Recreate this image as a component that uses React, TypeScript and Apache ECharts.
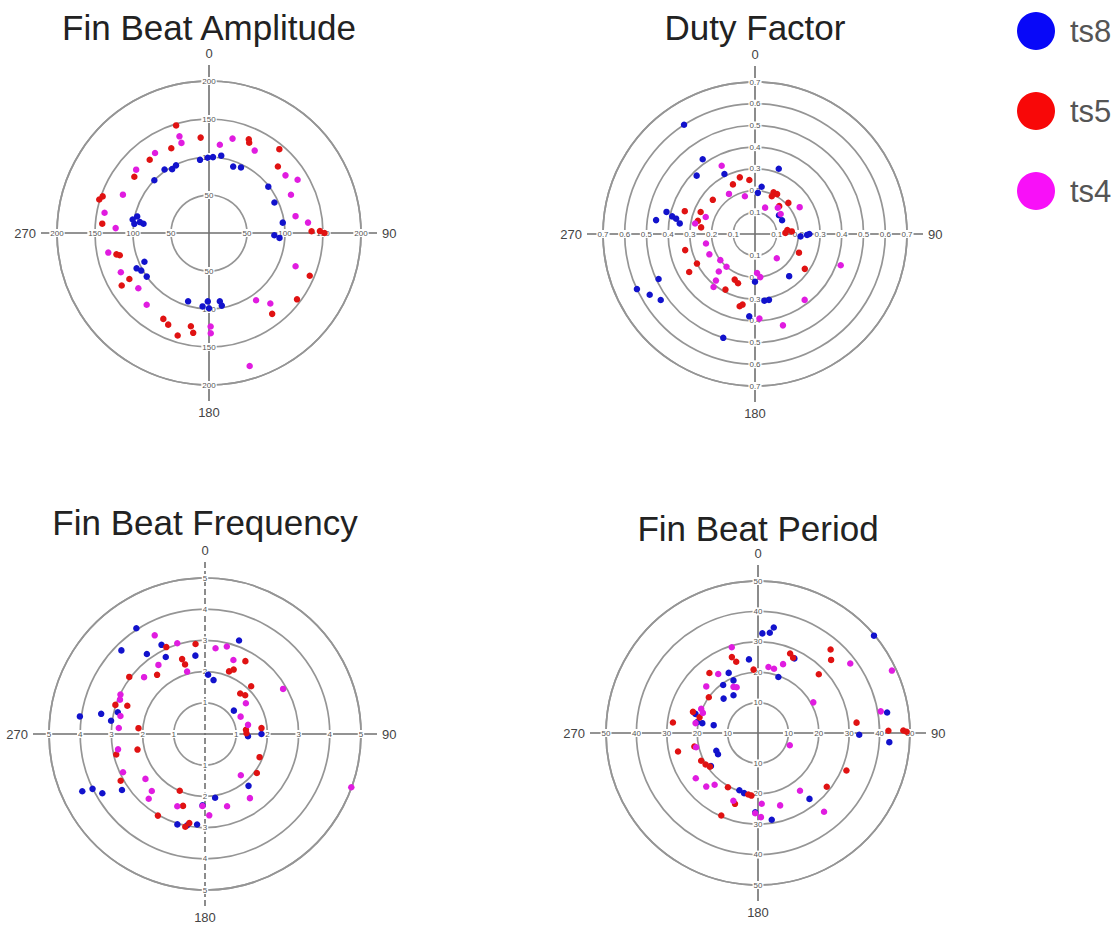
import React, { useEffect, useRef } from "react";
import * as echarts from "echarts";

// Every point is [radius value, angle in degrees, clockwise from 0 at the top]
const amplitudeTs8: number[][] = [
  [97, 353], [100, 3], [103, 9], [99, 359], [99, 334], [97, 330], [102, 325], [100, 314],
  [93, 20], [96, 26], [99, 52], [95, 65], [98, 82], [86, 92], [93, 94], [102, 280],
  [97, 283], [92, 279], [87, 278], [99, 277], [93, 246], [106, 244], [102, 241], [100, 235],
  [94, 197], [97, 185], [90, 181], [99, 180], [91, 171], [97, 170],
];
const amplitudeTs5: number[][] = [
  [148, 343], [126, 355], [134, 23], [130, 24], [144, 40], [126, 46], [135, 89], [146, 89],
  [152, 90], [144, 113], [145, 127], [135, 142], [125, 191], [133, 189], [141, 197], [132, 204],
  [128, 208], [121, 240], [134, 239], [125, 257], [121, 256], [141, 275], [151, 287], [148, 289],
  [123, 307], [124, 321], [122, 336],
];
const amplitudeTs4: number[][] = [
  [133, 343], [124, 343], [127, 326], [127, 311], [124, 294], [140, 281], [123, 273], [117, 7],
  [128, 14], [124, 29], [126, 53], [136, 59], [119, 65], [116, 79], [131, 84], [122, 111],
  [123, 139], [108, 145], [183, 163], [123, 179], [132, 179], [125, 221], [118, 232], [127, 246],
  [135, 259],
];

const dutyTs8: number[][] = [
  [0.6, 327], [0.42, 325], [0.38, 315], [0.31, 333], [0.32, 20], [0.42, 284], [0.46, 278],
  [0.39, 282], [0.37, 281], [0.35, 278], [0.19, 4], [0.22, 8], [0.14, 52], [0.14, 63],
  [0.21, 93], [0.24, 91], [0.25, 90], [0.49, 245], [0.6, 245], [0.56, 240], [0.53, 235],
  [0.22, 180], [0.31, 172], [0.31, 168], [0.38, 184], [0.5, 197], [0.25, 141],
];
const dutyTs5: number[][] = [
  [0.27, 345], [0.25, 336], [0.25, 354], [0.21, 24], [0.21, 29], [0.19, 24], [0.17, 41],
  [0.21, 47], [0.25, 309], [0.34, 288], [0.27, 292], [0.27, 283], [0.25, 277], [0.15, 83],
  [0.17, 86], [0.14, 88], [0.22, 113], [0.28, 125], [0.33, 257], [0.35, 240], [0.3, 243],
  [0.23, 204], [0.24, 199], [0.29, 208], [0.34, 192], [0.33, 190],
];
const dutyTs4: number[][] = [
  [0.35, 334], [0.22, 327], [0.18, 345], [0.13, 21], [0.16, 41], [0.15, 52], [0.24, 59],
  [0.24, 289], [0.28, 280], [0.23, 259], [0.23, 246], [0.2, 233], [0.2, 221], [0.24, 224],
  [0.28, 220], [0.31, 218], [0.15, 138], [0.18, 177], [0.2, 173], [0.39, 177], [0.44, 163],
  [0.38, 143], [0.42, 110],
];

const frequencyTs8: number[][] = [
  [4.04, 327], [3.79, 315], [3.17, 324], [3.18, 334], [2.77, 333], [2.53, 353], [3.19, 20],
  [1.9, 3], [1.75, 9], [4.05, 278], [3.39, 281], [3.04, 278], [2.88, 284], [1.19, 51],
  [1.38, 93], [1.81, 90], [4.34, 245], [4.01, 244], [3.8, 240], [3.21, 236], [2.17, 140],
  [2.07, 171], [3.03, 197], [2.98, 191], [2.91, 185], [2.29, 182],
];
const frequencyTs5: number[][] = [
  [2.9, 354], [3.05, 336], [2.44, 321], [3.04, 307], [2.51, 343], [2.32, 344], [2.15, 21],
  [2.26, 24], [2.67, 29], [1.72, 41], [2.13, 44], [1.79, 46], [3.02, 288], [2.65, 290],
  [2.92, 257], [2.22, 257], [2.14, 275], [1.33, 89], [1.32, 84], [1.82, 84], [1.9, 113],
  [2.08, 127], [3.09, 241], [1.99, 204], [2.41, 197], [3.02, 210], [3.04, 192], [2.9, 190],
];
const frequencyTs4: number[][] = [
  [3.55, 333], [3.04, 343], [2.77, 7], [2.89, 14], [2.54, 21], [2.08, 344], [2.67, 313],
  [2.67, 326], [2.99, 295], [2.94, 292], [2.77, 282], [2.77, 274], [2.83, 260], [2.9, 245],
  [2.39, 233], [2.5, 223], [2.75, 221], [2.89, 60], [1.64, 53], [1.27, 64], [1.41, 78],
  [1.75, 139], [2.51, 145], [2.42, 163], [2.31, 182], [2.61, 177], [2.48, 201], [4.99, 110],
];

const periodTs8: number[][] = [
  [35.1, 8.5], [33.2, 6.7], [32.8, 2.5], [24.4, 353], [19.6, 20], [27.3, 26], [22.0, 334],
  [19.5, 324], [19.1, 335], [14.8, 327], [16.0, 315], [21.5, 287], [18.6, 280], [20.4, 280],
  [14.8, 280], [14.9, 247], [14.9, 242], [18.9, 235], [19.8, 198], [20.3, 193], [26.1, 182],
  [28.9, 171], [27.5, 142], [49.8, 50], [43.0, 81], [43.3, 94], [33.3, 91],
];
const periodTs5: number[][] = [
  [26.4, 341], [24.5, 343], [20.9, 356], [28.2, 22], [27.3, 25], [36.4, 41], [34.0, 45],
  [27.8, 46], [32.6, 84], [42.9, 89], [47.8, 89], [48.9, 89.5], [25.4, 321], [20.0, 306],
  [22.5, 288], [19.9, 285], [28.2, 277], [27.0, 257], [21.4, 258], [20.8, 244], [20.1, 239],
  [19.3, 235], [31.6, 113], [28.7, 128], [20.4, 209], [20.5, 189], [20.7, 186], [24.5, 198],
  [29.7, 204],
];
const periodTs4: number[][] = [
  [29.5, 343], [22.0, 9], [21.8, 14], [24.1, 20], [38.0, 53], [48.6, 65], [41.0, 80],
  [20.8, 61], [11.2, 111], [22.9, 312], [23.4, 326], [17.2, 332], [16.6, 335], [20.3, 293],
  [19.3, 290], [20.8, 279], [20.9, 257], [25.3, 234], [22.2, 220], [24.5, 224], [23.7, 200],
  [23.3, 177], [24.9, 163], [23.5, 144], [33.8, 140], [26.4, 182], [27.7, 178],
];

const SERIES_NAMES = ["ts8", "ts5", "ts4"];
const DOT_COLORS = ["#1212cc", "#e01212", "#e01ce0"];
const LEGEND_COLORS = ["#0808f8", "#f80808", "#f810f8"];

const FONT = '"Liberation Sans", Arial, Helvetica, sans-serif';

type Panel = {
  title: string;
  cx: number;
  cy: number;
  r: number;
  titleY: number;
  max: number;
  interval: number;
  decimals: number;
  dashedVertical: boolean;
  data: number[][][];
};

const PANELS: Panel[] = [
  {
    title: "Fin Beat Amplitude", cx: 209, cy: 233, r: 152, titleY: 27,
    max: 200, interval: 50, decimals: 0, dashedVertical: false,
    data: [amplitudeTs8, amplitudeTs5, amplitudeTs4],
  },
  {
    title: "Duty Factor", cx: 755, cy: 234, r: 152, titleY: 27,
    max: 0.7, interval: 0.1, decimals: 1, dashedVertical: false,
    data: [dutyTs8, dutyTs5, dutyTs4],
  },
  {
    title: "Fin Beat Frequency", cx: 205, cy: 734, r: 156, titleY: 522,
    max: 5, interval: 1, decimals: 0, dashedVertical: true,
    data: [frequencyTs8, frequencyTs5, frequencyTs4],
  },
  {
    title: "Fin Beat Period", cx: 758, cy: 733, r: 152, titleY: 528,
    max: 50, interval: 10, decimals: 0, dashedVertical: false,
    data: [periodTs8, periodTs5, periodTs4],
  },
];

function buildOption() {
  const polar: any[] = [];
  const angleAxis: any[] = [];
  const radiusAxis: any[] = [];
  const series: any[] = [];
  const graphic: any[] = [];

  const addPolar = (cx: number, cy: number, r: number, angle: any, radius: any) => {
    const idx = polar.length;
    polar.push({ center: [cx, cy], radius: r });
    angleAxis.push({ polarIndex: idx, type: "value", min: 0, max: 360, clockwise: true, ...angle });
    radiusAxis.push({ polarIndex: idx, type: "value", ...radius });
    return idx;
  };

  const hiddenRadius = { min: 0, max: 1, show: false };
  const angleLabel = { show: true, margin: 5, fontSize: 13, color: "#444", fontFamily: FONT };
  const crossStyle = { color: "#707070", width: 1.6 };
  const circleStyle = { color: "#959595", width: 1.7 };

  PANELS.forEach((p) => {
    const crossR = p.r + 16;
    const tickLabel = {
      show: true,
      margin: 0,
      align: "center",
      verticalAlign: "middle",
      fontSize: 8,
      color: "#555",
      fontFamily: FONT,
      backgroundColor: "#ffffff",
      padding: [0, 1],
      showMinLabel: false,
      formatter: (v: number) => v.toFixed(p.decimals),
    };

    // Crosshair through the centre, reaching past the outer ring, with compass labels
    if (!p.dashedVertical) {
      addPolar(p.cx, p.cy, crossR, {
        interval: 90, startAngle: 90,
        axisLine: { show: false }, axisTick: { show: false },
        splitLine: { show: true, lineStyle: crossStyle },
        axisLabel: { ...angleLabel, formatter: (v: number) => (v >= 360 ? "" : String(v)) },
        z: 0,
      }, hiddenRadius);
    } else {
      addPolar(p.cx, p.cy, crossR, {
        interval: 180, startAngle: 90,
        axisLine: { show: false }, axisTick: { show: false },
        splitLine: { show: true, lineStyle: { ...crossStyle, type: [6, 3] } },
        axisLabel: { ...angleLabel, formatter: (v: number) => (v === 0 ? "0" : v === 180 ? "180" : "") },
        z: 0,
      }, hiddenRadius);
      addPolar(p.cx, p.cy, crossR, {
        interval: 180, startAngle: 0,
        axisLine: { show: false }, axisTick: { show: false },
        splitLine: { show: true, lineStyle: crossStyle },
        axisLabel: { ...angleLabel, formatter: (v: number) => (v === 0 ? "90" : v === 180 ? "270" : "") },
        z: 0,
      }, hiddenRadius);
    }

    // Rings and the data itself; its radius labels run upwards
    const main = addPolar(p.cx, p.cy, p.r, {
      startAngle: 90,
      axisLine: { show: true, lineStyle: circleStyle },
      axisTick: { show: false }, axisLabel: { show: false }, splitLine: { show: false },
      z: 0,
    }, {
      min: 0, max: p.max, interval: p.interval,
      axisLine: { show: false }, axisTick: { show: false },
      splitLine: { show: true, lineStyle: circleStyle },
      axisLabel: tickLabel,
      z: 1,
    });

    // Radius labels along the other three arms of the crosshair
    [0, 270, 180].forEach((a) => {
      addPolar(p.cx, p.cy, p.r, { startAngle: a, show: false }, {
        min: 0, max: p.max, interval: p.interval,
        axisLine: { show: false }, axisTick: { show: false }, splitLine: { show: false },
        axisLabel: tickLabel,
        z: 1,
      });
    });

    SERIES_NAMES.forEach((name, i) => {
      series.push({
        type: "scatter",
        name,
        coordinateSystem: "polar",
        polarIndex: main,
        data: p.data[i],
        symbolSize: 6.5,
        itemStyle: { color: DOT_COLORS[i], opacity: 1 },
        z: 2,
      });
    });

    graphic.push({
      type: "text",
      x: p.cx,
      y: p.titleY,
      style: {
        text: p.title,
        font: `35px ${FONT}`,
        fill: "#222",
        textAlign: "center",
        textVerticalAlign: "middle",
      },
    });
  });

  return {
    animation: false,
    backgroundColor: "#ffffff",
    polar,
    angleAxis,
    radiusAxis,
    series,
    graphic,
    legend: {
      orient: "vertical",
      left: 1017,
      top: 12,
      padding: 0,
      itemWidth: 38,
      itemHeight: 38,
      itemGap: 42,
      icon: "circle",
      selectedMode: false,
      data: SERIES_NAMES.map((n, i) => ({
        name: n,
        itemStyle: { color: LEGEND_COLORS[i], opacity: 1 },
      })),
      textStyle: { fontSize: 31, color: "#555", fontFamily: FONT, padding: [0, 0, 0, 10] },
    },
  };
}

export default function App() {
  const ref = useRef<HTMLDivElement>(null);
  useEffect(() => {
    if (!ref.current) return;
    const chart = echarts.init(ref.current, undefined, { renderer: "svg" });
    chart.setOption(buildOption() as any);
    return () => chart.dispose();
  }, []);
  return (
    <div
      ref={ref}
      style={{ position: "fixed", left: 0, top: 0, width: 1120, height: 932, background: "#fff" }}
    />
  );
}
